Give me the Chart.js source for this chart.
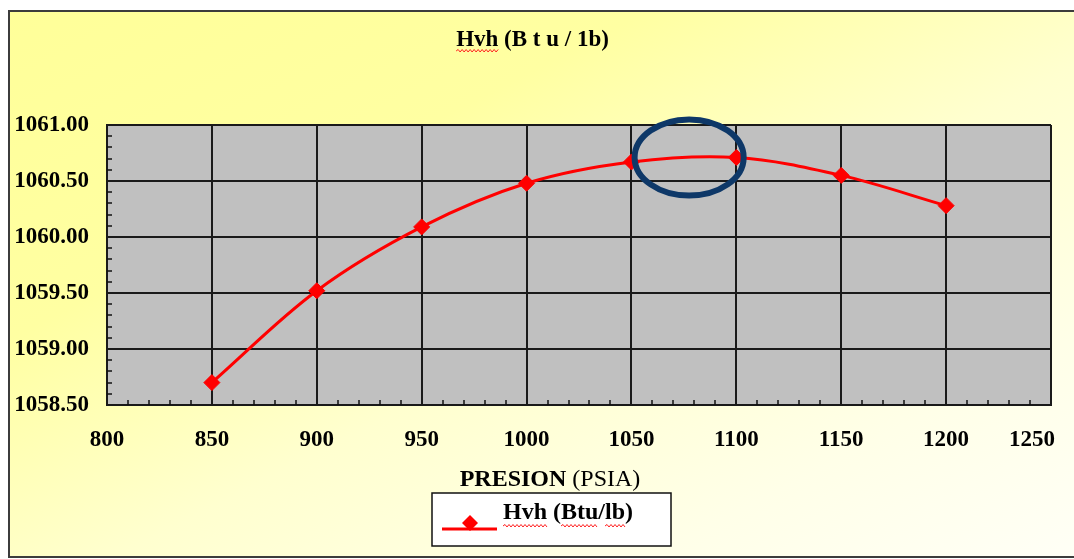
<!DOCTYPE html>
<html>
<head>
<meta charset="utf-8">
<script src="https://cdn.jsdelivr.net/npm/chart.js@4.4.1/dist/chart.umd.min.js"></script>
<style>
  html, body { margin: 0; padding: 0; background: #fff; }
  #wrap { width: 1074px; height: 559px; }
</style>
</head>
<body>
<div id="wrap"><canvas id="HvhChart" width="1074" height="559"></canvas></div>
<script>
// data
var presion = [850, 900, 950, 1000, 1050, 1100, 1150, 1200];
var hvh = [1058.70, 1059.52, 1060.09, 1060.48, 1060.67, 1060.71, 1060.55, 1060.28];
var xTicks = [800, 850, 900, 950, 1000, 1050, 1100, 1150, 1200, 1250];
var yTicks = [1058.5, 1059.0, 1059.5, 1060.0, 1060.5, 1061.0];
var titleText = 'Hvh (B t u / 1b)';
var seriesLabel = 'Hvh (Btu/lb)';
// the ring drawn round the top of the curve (data units)
var ring = { x: 1077.5, y: 1060.71, dx: 26, dy: 0.34 };

var serif = '"Liberation Serif", "Times New Roman", serif';

function squiggle(ctx, x1, x2, y) {
  ctx.save();
  ctx.strokeStyle = '#ff2020';
  ctx.lineWidth = 1;
  ctx.beginPath();
  ctx.moveTo(x1, y);
  var up = true;
  for (var x = x1 + 2; x <= x2; x += 2) {
    ctx.lineTo(x, up ? y - 1.5 : y + 1);
    up = !up;
  }
  ctx.stroke();
  ctx.restore();
}

var frame = {
  id: 'frame',
  beforeDraw: function (chart) {
    var ctx = chart.ctx, a = chart.chartArea;
    ctx.save();
    ctx.fillStyle = '#fff';
    ctx.fillRect(0, 0, chart.width, chart.height);
    var g = ctx.createLinearGradient(9, 11, 452, 876);
    g.addColorStop(0, '#FFFF99');
    g.addColorStop(0.3, '#FFFFA2');
    g.addColorStop(0.55, '#FFFFCF');
    g.addColorStop(0.8, '#FFFFE8');
    g.addColorStop(1, '#FFFFF6');
    ctx.fillStyle = g;
    ctx.fillRect(9, 11, chart.width, 546);
    ctx.strokeStyle = '#3c3c3c';
    ctx.lineWidth = 2;
    ctx.strokeRect(9, 11, chart.width + 20, 546);
    ctx.fillStyle = '#C0C0C0';
    ctx.fillRect(a.left, a.top, a.right - a.left, a.bottom - a.top);
    ctx.restore();

    // last x label sits inside the frame, as in the original
    var xs = chart.scales.x;
    var items = xs.getLabelItems();
    var last = items[items.length - 1];
    if (last && last.options && last.options.translation) {
      last.options.textAlign = 'right';
      last.options.translation[0] = xs.right + 4;
    }
  },
  beforeDatasetsDraw: function (chart) {
    var ctx = chart.ctx, a = chart.chartArea;
    var xs = chart.scales.x, ys = chart.scales.y;
    ctx.save();
    ctx.strokeStyle = '#111';
    ctx.lineWidth = 1.5;
    ctx.beginPath();
    for (var i = 0; i < xTicks.length - 1; i++) {
      for (var k = 1; k < 5; k++) {
        var px = Math.round(xs.getPixelForValue(xTicks[i] + k * (xTicks[i + 1] - xTicks[i]) / 5));
        ctx.moveTo(px, a.bottom);
        ctx.lineTo(px, a.bottom - 5);
      }
    }
    for (var j = 0; j < yTicks.length - 1; j++) {
      for (var m = 1; m < 5; m++) {
        var py = Math.round(ys.getPixelForValue(yTicks[j] + m * (yTicks[j + 1] - yTicks[j]) / 5));
        ctx.moveTo(a.left, py);
        ctx.lineTo(a.left + 5, py);
      }
    }
    ctx.stroke();
    ctx.restore();
  },
  afterDraw: function (chart) {
    var ctx = chart.ctx;
    var xs = chart.scales.x, ys = chart.scales.y;
    var ds = chart.data.datasets[0];

    // ring
    var cx = xs.getPixelForValue(ring.x), cy = ys.getPixelForValue(ring.y);
    var rx = xs.getPixelForValue(ring.x + ring.dx) - cx;
    var ry = cy - ys.getPixelForValue(ring.y + ring.dy);
    ctx.save();
    ctx.strokeStyle = '#0E3868';
    ctx.lineWidth = 6;
    ctx.beginPath();
    ctx.ellipse(cx, cy, rx, ry, 0, 0, Math.PI * 2);
    ctx.stroke();
    ctx.restore();

    // squiggle under "Hvh" in the title
    ctx.save();
    ctx.font = 'bold 23px ' + serif;
    var tw = ctx.measureText(titleText).width;
    var tx = (chart.titleBlock.left + chart.titleBlock.right) / 2 - tw / 2;
    squiggle(ctx, tx, tx + ctx.measureText('Hvh').width, 51);
    ctx.restore();

    // axis title: bold word, plain unit
    ctx.save();
    ctx.textBaseline = 'middle';
    ctx.fillStyle = '#000';
    ctx.font = 'bold 24px ' + serif;
    var w1 = ctx.measureText('PRESION ').width;
    ctx.font = '24px ' + serif;
    var w2 = ctx.measureText('(PSIA)').width;
    var sx = 550 - (w1 + w2) / 2;
    ctx.font = 'bold 24px ' + serif;
    ctx.fillText('PRESION ', sx, 480);
    ctx.font = '24px ' + serif;
    ctx.fillText('(PSIA)', sx + w1, 480);
    ctx.restore();

    // legend box
    ctx.save();
    ctx.fillStyle = '#fff';
    ctx.fillRect(432, 493, 239, 53);
    ctx.strokeStyle = '#111';
    ctx.lineWidth = 1.5;
    ctx.strokeRect(432, 493, 239, 53);
    ctx.strokeStyle = ds.borderColor;
    ctx.lineWidth = 3;
    ctx.beginPath();
    ctx.moveTo(442, 529);
    ctx.lineTo(497, 529);
    ctx.stroke();
    ctx.fillStyle = ds.pointBackgroundColor;
    ctx.beginPath();
    ctx.moveTo(470, 515); ctx.lineTo(478, 523); ctx.lineTo(470, 531); ctx.lineTo(462, 523);
    ctx.closePath();
    ctx.fill();
    ctx.fillStyle = '#000';
    ctx.font = 'bold 24px ' + serif;
    ctx.textBaseline = 'middle';
    ctx.fillText(ds.label, 503, 513);
    var wH = ctx.measureText('Hvh').width;
    var wP = ctx.measureText('Hvh (').width;
    var wB = ctx.measureText('Hvh (Btu').width;
    var wS = ctx.measureText('Hvh (Btu/').width;
    var wL = ctx.measureText('Hvh (Btu/lb').width;
    squiggle(ctx, 503, 503 + wH, 526);
    squiggle(ctx, 503 + wP, 503 + wB, 526);
    squiggle(ctx, 503 + wS, 503 + wL, 526);
    ctx.restore();
  }
};

var ctxH = document.getElementById('HvhChart').getContext('2d');
var hvhChart = new Chart(ctxH, {
  type: 'line',
  data: {
    datasets: [{
      label: seriesLabel,
      data: presion.map(function (p, i) { return { x: p, y: hvh[i] }; }),
      borderColor: '#FF0000',
      backgroundColor: '#FF0000',
      pointBackgroundColor: '#FF0000',
      pointBorderColor: '#FF0000',
      borderWidth: 3,
      pointStyle: 'rectRot',
      pointRadius: 8,
      pointBorderWidth: 1,
      tension: 0.35,
      fill: false,
      clip: false
    }]
  },
  options: {
    responsive: false,
    devicePixelRatio: 1,
    animation: false,
    events: [],
    layout: { padding: { left: 14, right: 23, top: 0, bottom: 0 } },
    plugins: {
      legend: { display: false },
      tooltip: { enabled: false },
      title: {
        display: true,
        text: titleText,
        color: '#000',
        font: { family: serif, size: 23, weight: 'bold' },
        padding: { top: 26, bottom: 71.4 }
      }
    },
    scales: {
      x: {
        type: 'linear',
        min: xTicks[0],
        max: xTicks[xTicks.length - 1],
        afterBuildTicks: function (s) { s.ticks = xTicks.map(function (v) { return { value: v }; }); },
        afterFit: function (s) { s.height = 154; s.paddingLeft = 0; s.paddingRight = 0; },
        grid: { color: '#1a1a1a', lineWidth: 2, drawTicks: false },
        border: { display: true, color: '#1a1a1a', width: 2 },
        ticks: {
          color: '#000',
          padding: 21,
          maxRotation: 0,
          font: { family: serif, size: 23, weight: 'bold' },
          callback: function (v) { return String(v); }
        }
      },
      y: {
        type: 'linear',
        min: yTicks[0],
        max: yTicks[yTicks.length - 1],
        afterBuildTicks: function (s) { s.ticks = yTicks.map(function (v) { return { value: v }; }); },
        afterFit: function (s) { s.width = 93; },
        grid: { color: '#1a1a1a', lineWidth: 2, drawTicks: false },
        border: { display: true, color: '#1a1a1a', width: 2 },
        ticks: {
          color: '#000',
          padding: 18,
          font: { family: serif, size: 23, weight: 'bold' },
          callback: function (v) { return Number(v).toFixed(2); }
        }
      }
    }
  },
  plugins: [frame]
});
</script>
</body>
</html>
